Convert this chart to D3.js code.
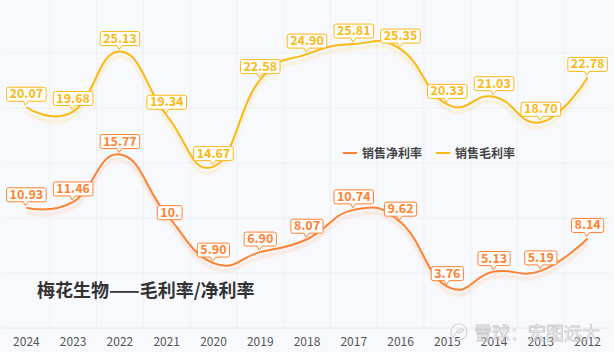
<!doctype html>
<html>
  <head>
    <meta charset="utf-8">
    <script src="https://cdnjs.cloudflare.com/ajax/libs/d3/7.8.5/d3.min.js"></script>
    <style>
      body { margin: 0; background: #f8f9fd; }
      svg { display: block; font-family: "Noto Sans CJK SC", "Noto Sans", sans-serif; }
    </style>
  </head>
  <body>
    <svg width="614" height="352"></svg>
    <script>
        var years = ["2024","2023","2022","2021","2020","2019","2018","2017","2016","2015","2014","2013","2012"];
        var grossMargin = [20.07, 19.68, 25.13, 19.34, 14.67, 22.58, 24.90, 25.81, 25.35, 20.33, 21.03, 18.70, 22.78];
        var netMargin = [10.93, 11.46, 15.77, 10.3, 5.90, 6.90, 8.07, 10.74, 9.62, 3.76, 5.13, 5.19, 8.14];
        var grossLabels = ["20.07","19.68","25.13","19.34","14.67","22.58","24.90","25.81","25.35","20.33","21.03","18.70","22.78"];
        var netLabels = ["10.93","11.46","15.77","10.","5.90","6.90","8.07","10.74","9.62","3.76","5.13","5.19","8.14"];
        var yGrid = [0, 5, 10, 15, 20, 25, 30];

        var grossColor = "#fbb812", netColor = "#ff8130";

        var svg = d3.select("svg");
        var x = d3.scaleBand().domain(years).range([3, 611]);
        var y = d3.scaleLinear().domain([0, 30]).range([328, -2]);
        var cx = d => x(d) + x.bandwidth() / 2;

        var defs = svg.append("defs");
        var f = defs.append("filter").attr("id", "shadow")
            .attr("x", "-5%").attr("y", "-20%").attr("width", "110%").attr("height", "140%");
        f.append("feOffset").attr("in", "SourceGraphic").attr("dy", 5).attr("result", "off");
        f.append("feGaussianBlur").attr("in", "off").attr("stdDeviation", 1.5).attr("result", "blur");
        f.append("feColorMatrix").attr("in", "blur").attr("type", "matrix")
            .attr("values", "1 0 0 0 0  0 1 0 0 0  0 0 1 0 0  0 0 0 0.25 0").attr("result", "sh");
        var m = f.append("feMerge");
        m.append("feMergeNode").attr("in", "sh");
        m.append("feMergeNode").attr("in", "SourceGraphic");

        // grid
        svg.append("g").selectAll("line").data(yGrid).enter().append("line")
            .attr("x1", 3).attr("x2", 611)
            .attr("y1", d => y(d)).attr("y2", d => y(d))
            .attr("stroke", d => d === 0 ? "#e6e8ee" : "#eef0f6").attr("stroke-width", 1);
        svg.append("g").selectAll("line").data(years.slice(1)).enter().append("line")
            .attr("x1", d => x(d)).attr("x2", d => x(d))
            .attr("y1", y(30)).attr("y2", y(0))
            .attr("stroke", "#eef0f6").attr("stroke-width", 1);

        // x axis
        var xAxis = svg.append("g").attr("transform", "translate(0," + y(0) + ")")
            .call(d3.axisBottom(x).tickSize(0).tickPadding(9));
        xAxis.select(".domain").remove();
        xAxis.selectAll("text").attr("fill", "#555").style("font-size", "12px")
            .style("font-family", "'Noto Sans CJK SC', sans-serif");

        // title
        svg.append("text").attr("x", 37).attr("y", 297)
            .attr("fill", "#333").style("font-size", "18px").style("font-weight", "bold")
            .text("梅花生物——毛利率/净利率");

        var line = d3.line()
            .x((d, i) => cx(years[i]))
            .y(d => y(d))
            .curve(d3.curveCardinal.tension(-0.4));

        [[grossMargin, grossColor], [netMargin, netColor]].forEach(function (s) {
            svg.append("path").datum(s[0])
                .attr("d", line)
                .attr("fill", "none")
                .attr("stroke", s[1])
                .attr("stroke-width", 2)
                .attr("filter", "url(#shadow)");
        });

        // legend
        var legend = [["销售净利率", netColor, 343], ["销售毛利率", grossColor, 436]];
        legend.forEach(function (l) {
            var g = svg.append("g").attr("transform", "translate(" + l[2] + ",153)");
            g.append("line").attr("x1", 0).attr("x2", 14).attr("y1", 0).attr("y2", 0)
                .attr("stroke", l[1]).attr("stroke-width", 2);
            g.append("text").attr("x", 19).attr("y", 4.5)
                .attr("fill", "#444").style("font-size", "12px").style("font-weight", "bold")
                .text(l[0]);
        });

        // data labels
        function drawLabels(values, labels, color) {
            var g = svg.append("g");
            values.forEach(function (v, i) {
                var px = cx(years[i]), py = y(v);
                var special = labels[i].length < 4 && labels[i].endsWith(".");
                var lg = g.append("g");
                var t = lg.append("text").attr("text-anchor", "middle")
                    .attr("fill", color).style("font-size", "12.5px").style("font-weight", "bold")
                    .text(labels[i]);
                var w = t.node().getComputedTextLength() + 6, h = 14;
                var bx, by;
                if (special) {
                    bx = px + 3 - w / 2; by = py - h / 2 - 2;
                } else {
                    bx = px - w / 2; by = py - 6 - h;
                }
                var b = by + h;
                var path = "M" + (bx + 2) + "," + by + "H" + (bx + w - 2) + "Q" + (bx + w) + "," + by + " " + (bx + w) + "," + (by + 2) +
                    "V" + (b - 2) + "Q" + (bx + w) + "," + b + " " + (bx + w - 2) + "," + b;
                if (!special) path += "H" + (px + 2) + "L" + (px - 1) + "," + (b + 4) + "L" + (px - 3) + "," + b;
                path += "H" + (bx + 2) + "Q" + bx + "," + b + " " + bx + "," + (b - 2) + "V" + (by + 2) + "Q" + bx + "," + by + " " + (bx + 2) + "," + by + "Z";
                lg.insert("path", "text").attr("d", path)
                    .attr("fill", "#fff").attr("stroke", color).attr("stroke-width", 1);
                t.attr("x", bx + w / 2).attr("y", by + h - 3);
            });
        }
        drawLabels(grossMargin, grossLabels, grossColor);
        drawLabels(netMargin, netLabels, netColor);

        // watermark
        var wm = svg.append("g").attr("opacity", 0.75);
        wm.append("circle").attr("cx", 459).attr("cy", 332).attr("r", 8)
            .attr("fill", "none").attr("stroke", "#c8c8c8").attr("stroke-width", 1.2);
        wm.append("path").attr("d", "M454,336 Q459,326 464,330 Q460,334 456,332")
            .attr("fill", "none").attr("stroke", "#c8c8c8").attr("stroke-width", 1.2);
        wm.append("text").attr("x", 474).attr("y", 340)
            .attr("fill", "rgba(255,255,255,0.5)").attr("stroke", "#bdbdbd").attr("stroke-width", 0.8)
            .style("font-size", "18px")
            .text("雪球：宏图远大");
    </script>
  </body>
</html>
